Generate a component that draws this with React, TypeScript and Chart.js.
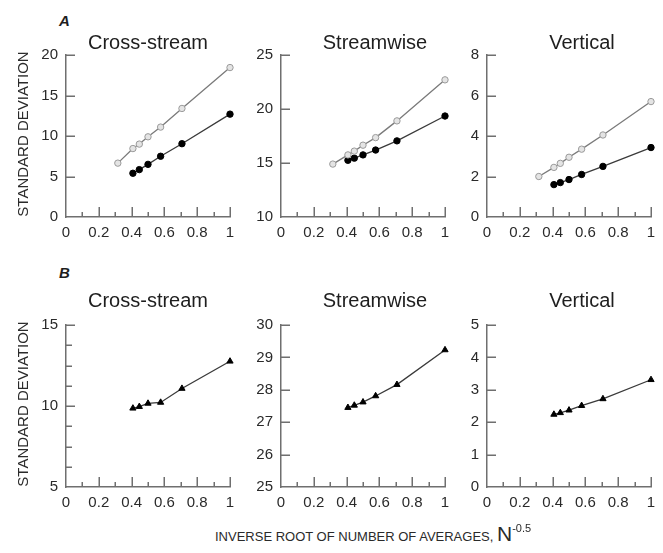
import React, { useEffect, useRef } from 'react';
import { Chart, registerables } from 'chart.js';
Chart.register(...registerables);

// ---- data ----
// x values: inverse root of number of averages N^-0.5 (N = 10, 6, 5, 4, 3, 2, 1)
const invRootN7 = [0.316, 0.408, 0.447, 0.5, 0.577, 0.707, 1];
const invRootN6 = [0.408, 0.447, 0.5, 0.577, 0.707, 1];

const aCrossOpen = [6.65, 8.45, 9.0, 9.9, 11.1, 13.4, 18.45];
const aCrossFilled = [5.4, 5.85, 6.5, 7.5, 9.05, 12.7];
const aStreamOpen = [14.9, 15.75, 16.1, 16.65, 17.35, 18.9, 22.7];
const aStreamFilled = [15.25, 15.45, 15.75, 16.2, 17.05, 19.35];
const aVertOpen = [2.0, 2.45, 2.65, 2.95, 3.35, 4.05, 5.7];
const aVertFilled = [1.6, 1.7, 1.85, 2.1, 2.5, 3.43];

const bCross = [9.86, 9.96, 10.16, 10.22, 11.08, 12.76];
const bStream = [27.45, 27.52, 27.62, 27.81, 28.16, 29.23];
const bVert = [2.24, 2.29, 2.37, 2.51, 2.72, 3.31];

const panelTitles = ['Cross-stream', 'Streamwise', 'Vertical'];
const rowLetters = ['A', 'B'];
const yAxisTitle = 'STANDARD DEVIATION';
const xAxisTitle = 'INVERSE ROOT OF NUMBER OF AVERAGES, ';

// y-axis ranges: [min, max, step, labelEvery]
const yRangesA = [
  [0, 20, 5, 5],
  [10, 25, 5, 5],
  [0, 8, 2, 2],
];
const yRangesB = [
  [5, 15, 1.25, 5],
  [25, 30, 1, 1],
  [0, 5, 1, 1],
];

type Kind = 'open' | 'filled' | 'tri';
type Series = { x: number[]; y: number[]; kind: Kind };

const seriesA: Series[][] = [
  [
    { x: invRootN7, y: aCrossOpen, kind: 'open' },
    { x: invRootN6, y: aCrossFilled, kind: 'filled' },
  ],
  [
    { x: invRootN7, y: aStreamOpen, kind: 'open' },
    { x: invRootN6, y: aStreamFilled, kind: 'filled' },
  ],
  [
    { x: invRootN7, y: aVertOpen, kind: 'open' },
    { x: invRootN6, y: aVertFilled, kind: 'filled' },
  ],
];
const seriesB: Series[][] = [
  [{ x: invRootN6, y: bCross, kind: 'tri' }],
  [{ x: invRootN6, y: bStream, kind: 'tri' }],
  [{ x: invRootN6, y: bVert, kind: 'tri' }],
];

// ---- layout ----
const FONT = '"Liberation Sans", Arial, Helvetica, sans-serif';
const AXIS = '#6f6f6f';
const W_Y = 45;
const PAD_T = 15;
const PAD_R = 15;
const H_X = 30;
const PLOT_W = 164;
const PLOT_H = 164;
const colLefts = [66, 281, 487];
const rowTops = [53, 323];
const titleCenters = [148, 375, 582];
const titleTops = [32, 290];
const letterTops = [13, 265];
const yTitleCenters = [133.5, 403.5];

const inwardTicks = {
  id: 'inwardTicks',
  beforeDatasetsDraw(chart: any) {
    const { ctx, chartArea } = chart;
    const xs = chart.scales.x;
    const ys = chart.scales.y;
    ctx.save();
    ctx.strokeStyle = AXIS;
    ctx.lineWidth = 1.5;
    ctx.beginPath();
    xs.ticks.forEach((t: any) => {
      if (Math.abs(t.value) < 1e-9) return;
      const px = Math.round(xs.getPixelForValue(t.value)) + 0.25;
      const major = Math.round(t.value * 10) % 2 === 0;
      const len = major ? 10 : 5;
      ctx.moveTo(px, chartArea.bottom);
      ctx.lineTo(px, chartArea.bottom - len);
    });
    ys.ticks.forEach((t: any) => {
      if (Math.abs(t.value - ys.min) < 1e-9) return;
      const py = Math.round(ys.getPixelForValue(t.value)) + 0.25;
      const major = t.label !== '';
      const len = major ? 9 : 6;
      ctx.moveTo(chartArea.left, py);
      ctx.lineTo(chartArea.left + len, py);
    });
    ctx.stroke();
    ctx.restore();
  },
};

function styleFor(kind: Kind) {
  if (kind === 'open') {
    return {
      borderColor: '#7a7a7a',
      borderWidth: 1.3,
      pointStyle: 'circle',
      pointRadius: 3.2,
      pointBackgroundColor: '#e4e4e4',
      pointBorderColor: '#9a9a9a',
      pointBorderWidth: 1,
    };
  }
  if (kind === 'filled') {
    return {
      borderColor: '#3a3a3a',
      borderWidth: 1.3,
      pointStyle: 'circle',
      pointRadius: 3.2,
      pointBackgroundColor: '#000',
      pointBorderColor: '#000',
      pointBorderWidth: 1,
    };
  }
  return {
    borderColor: '#3a3a3a',
    borderWidth: 1.3,
    pointStyle: 'triangle',
    pointRadius: 3.6,
    pointBackgroundColor: '#000',
    pointBorderColor: '#000',
    pointBorderWidth: 1,
  };
}

function Panel({ left, top, range, series }: { left: number; top: number; range: number[]; series: Series[] }) {
  const ref = useRef<HTMLCanvasElement>(null);
  useEffect(() => {
    const [yMin, yMax, yStep, labelEvery] = range;
    const chart = new Chart(ref.current as HTMLCanvasElement, {
      type: 'line',
      data: {
        datasets: series.map((s) => ({
          data: s.x.map((x, i) => ({ x, y: s.y[i] })),
          showLine: true,
          tension: 0,
          clip: false,
          ...styleFor(s.kind),
        })) as any,
      },
      options: {
        responsive: false,
        animation: false,
        layout: { padding: { top: PAD_T, right: PAD_R, left: 0, bottom: 0 } },
        plugins: { legend: { display: false }, tooltip: { enabled: false }, title: { display: false } },
        scales: {
          x: {
            type: 'linear',
            min: 0,
            max: 1,
            grid: { display: false, drawTicks: false },
            border: { display: true, color: AXIS, width: 1.5 },
            ticks: {
              stepSize: 0.1,
              autoSkip: false,
              maxRotation: 0,
              padding: 7,
              color: '#2a2a2a',
              font: { size: 15, family: FONT },
              callback: (v: any) => {
                const n = Math.round(Number(v) * 10);
                return n % 2 === 0 ? String(n / 10) : '';
              },
            },
            afterFit: (s: any) => {
              s.height = H_X;
            },
          },
          y: {
            type: 'linear',
            min: yMin,
            max: yMax,
            grid: { display: false, drawTicks: false },
            border: { display: true, color: AXIS, width: 1.5 },
            ticks: {
              stepSize: yStep,
              autoSkip: false,
              padding: 8,
              color: '#2a2a2a',
              font: { size: 15, family: FONT },
              callback: (v: any) => {
                const q = Number(v) / labelEvery;
                return Math.abs(q - Math.round(q)) > 1e-6 ? '' : String(Number(v));
              },
            },
            afterFit: (s: any) => {
              s.width = W_Y;
            },
          },
        },
      } as any,
      plugins: [inwardTicks],
    });
    return () => chart.destroy();
  }, []);
  return (
    <canvas
      ref={ref}
      width={W_Y + PLOT_W + PAD_R}
      height={PAD_T + PLOT_H + H_X}
      style={{ position: 'absolute', left: left - W_Y, top: top - PAD_T, width: W_Y + PLOT_W + PAD_R, height: PAD_T + PLOT_H + H_X }}
    />
  );
}

export default function App() {
  const rows = [
    { ranges: yRangesA, series: seriesA },
    { ranges: yRangesB, series: seriesB },
  ];
  return (
    <div
      style={{
        position: 'absolute',
        left: 0,
        top: 0,
        width: 663,
        height: 553,
        background: '#fff',
        fontFamily: FONT,
        color: '#222',
        overflow: 'hidden',
      }}
    >
      {rows.map((row, r) =>
        row.ranges.map((range, c) => (
          <Panel key={`${r}-${c}`} left={colLefts[c]} top={rowTops[r]} range={range} series={row.series[c]} />
        ))
      )}
      {rows.map((_, r) =>
        panelTitles.map((t, c) => (
          <div
            key={`t${r}-${c}`}
            style={{
              position: 'absolute',
              left: titleCenters[c],
              top: titleTops[r],
              transform: 'translateX(-50%)',
              fontSize: 20,
              lineHeight: '20px',
              whiteSpace: 'nowrap',
              color: '#1e1e1e',
            }}
          >
            {t}
          </div>
        ))
      )}
      {rowLetters.map((l, r) => (
        <div
          key={`l${r}`}
          style={{
            position: 'absolute',
            left: 59,
            top: letterTops[r],
            fontSize: 15,
            lineHeight: '15px',
            fontWeight: 'bold',
            fontStyle: 'italic',
            color: '#1e1e1e',
          }}
        >
          {l}
        </div>
      ))}
      {yTitleCenters.map((cy, r) => (
        <div
          key={`y${r}`}
          style={{
            position: 'absolute',
            left: 22,
            top: cy,
            transform: 'translate(-50%, -50%) rotate(-90deg)',
            fontSize: 15,
            lineHeight: '15px',
            whiteSpace: 'nowrap',
            color: '#2a2a2a',
          }}
        >
          {yAxisTitle}
        </div>
      ))}
      <div
        style={{
          position: 'absolute',
          left: 215,
          top: 522,
          fontSize: 13,
          lineHeight: '24px',
          whiteSpace: 'nowrap',
          color: '#2a2a2a',
        }}
      >
        {xAxisTitle}
        <span style={{ fontSize: 21 }}>N</span>
        <sup style={{ fontSize: 11, verticalAlign: 'baseline', position: 'relative', top: -9 }}>-0.5</sup>
      </div>
    </div>
  );
}
